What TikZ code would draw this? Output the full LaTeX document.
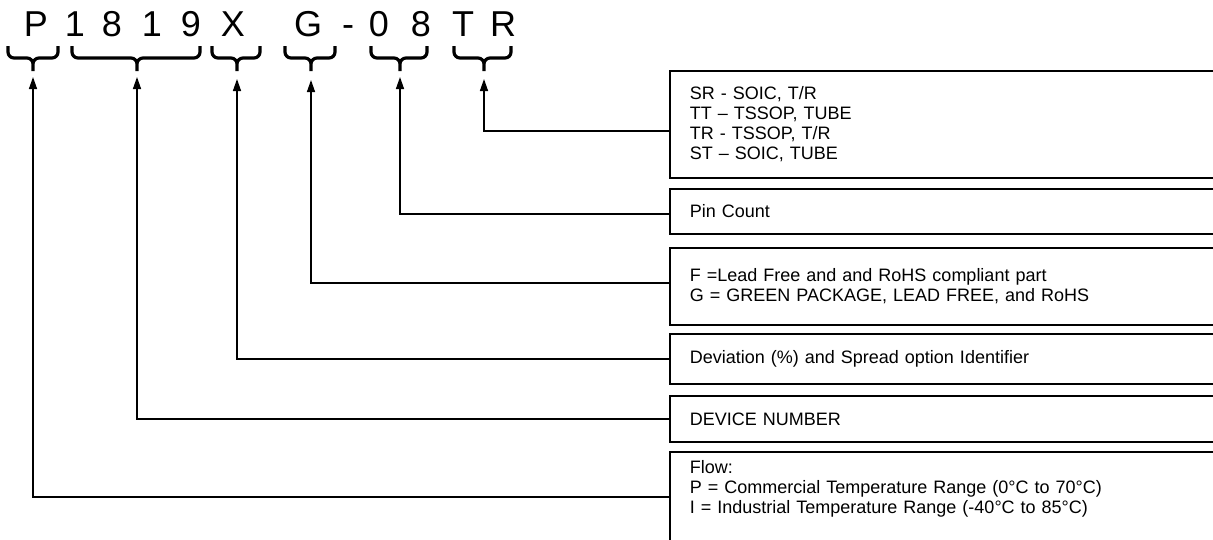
\documentclass[tikz,border=0pt]{standalone}
\usepackage{fontspec}
\setmainfont{Liberation Sans}
\usetikzlibrary{positioning,arrows.meta}

\begin{document}
\begin{tikzpicture}[x=1pt, y=-1pt]
  \tikzstyle{box} = [rectangle, draw, line width=1.8pt, anchor=north west, minimum width=600pt, text width=560pt, inner xsep=18pt, align=left, font=\fontsize{18}{20}\selectfont]
  \tikzstyle{char} = [anchor=base, inner sep=0pt, font=\fontsize{36}{40}\selectfont]
  \tikzstyle{arrow} = [line width=1.4pt, -{Triangle[length=12pt,width=8pt]}]
  \tikzstyle{grp} = [line width=3.2pt, rounded corners=6pt]

  \useasboundingbox (0,0) rectangle (1213,539);
  \clip (0,0) rectangle (1213,539);

  \node[char] (cP) at (36,36) {P};
  \node[char] (cOne) at (75,36) {1};
  \node[char] (cEight) at (112,36) {8};
  \node[char] (cOneB) at (152,36) {1};
  \node[char] (cNine) at (191,36) {9};
  \node[char] (cX) at (233,36) {X};
  \node[char] (cG) at (308,36) {G};
  \node[char] (cDash) at (348,36) {-};
  \node[char] (cZero) at (379,36) {0};
  \node[char] (cEightB) at (421,36) {8};
  \node[char] (cT) at (463,36) {T};
  \node[char] (cR) at (503,36) {R};

  \foreach \l/\m/\r in {8/33/58, 72/137/200, 212/237/260, 285/311/335, 371/400/427, 454/484/511}
    \draw[grp] (\l,46) -- (\l,58) -- (\m,58) -- (\m,71) (\r,46) -- (\r,58) -- (\m,58) -- (\m,71);

  \coordinate (tP) at (33,77);
  \coordinate (tNum) at (137,77);
  \coordinate (tX) at (237,79);
  \coordinate (tG) at (311,80);
  \coordinate (tPin) at (400,77);
  \coordinate (tPkg) at (484,79);

  \node[box, minimum height=107pt] (bxPkg) at (669,70) {SR - SOIC, T/R\\TT – TSSOP, TUBE\\TR - TSSOP, T/R\\ST – SOIC, TUBE};
  \node[box, minimum height=45pt] (bxPin) at (669,188) {Pin Count};
  \node[box, minimum height=77pt] (bxLead) at (669,247) {F =Lead Free and and RoHS compliant part\\G = GREEN PACKAGE, LEAD FREE, and RoHS};
  \node[box, minimum height=50pt] (bxDev) at (669,333) {Deviation (\%) and Spread option Identifier};
  \node[box, minimum height=46pt] (bxNum) at (669,395) {DEVICE NUMBER};
  \node[box, inner ysep=8.5pt, text depth=80pt] (bxFlow) at (669,451) {Flow:\\P = Commercial Temperature Range (0°C to 70°C)\\I = Industrial Temperature Range (-40°C to 85°C)};

  \draw[arrow] ([yshift=-6.5pt]bxPkg.west) -| (tPkg);
  \draw[arrow] ([yshift=-2.5pt]bxPin.west) -| (tPin);
  \draw[arrow] ([yshift=3.5pt]bxLead.west) -| (tG);
  \draw[arrow] (bxDev.west) -| (tX);
  \draw[arrow] (bxNum.west) -| (tNum);
  \draw[arrow] (bxFlow.north west) ++(0,46) -| (tP);
\end{tikzpicture}
\end{document}
